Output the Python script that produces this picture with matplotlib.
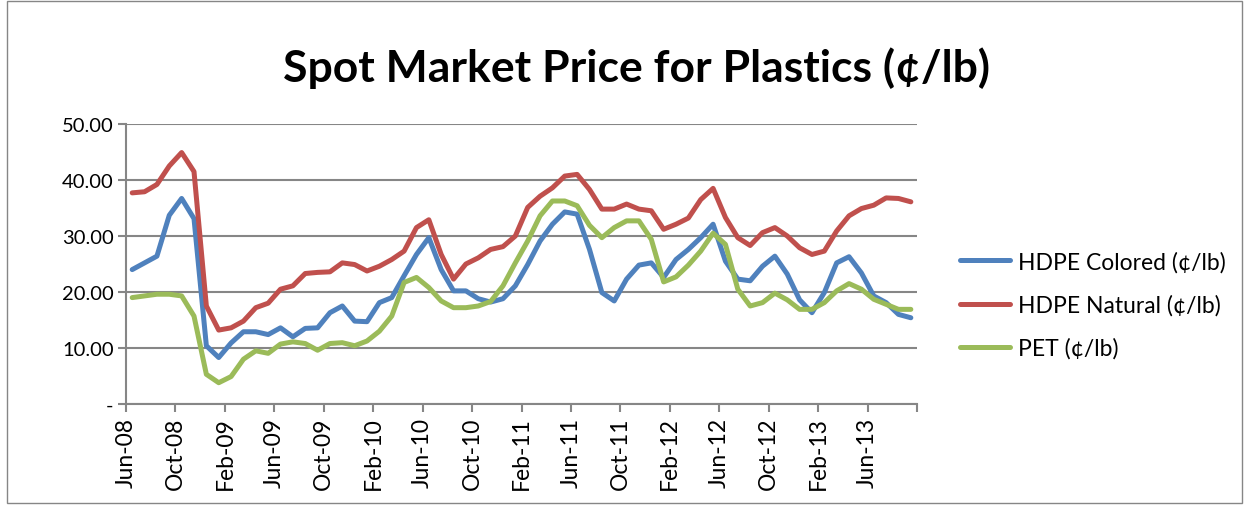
import matplotlib
matplotlib.use("Agg")
import matplotlib.pyplot as plt
from matplotlib.patches import Rectangle

# Monthly spot prices, Jun-08 .. Sep-13 (cents per lb)
hdpe_colored = [24.0, 25.2, 26.4, 33.7, 36.7, 33.1, 10.4, 8.3, 10.9, 12.9,
                12.9, 12.4, 13.6, 12.0, 13.5, 13.6, 16.3, 17.5, 14.8, 14.7,
                18.1, 19.0, 22.9, 26.7, 29.7, 24.0, 20.2, 20.2, 18.8, 18.2,
                18.8, 21.1, 24.9, 29.1, 32.1, 34.3, 33.9, 27.6, 19.9, 18.4,
                22.3, 24.8, 25.2, 22.6, 25.8, 27.6, 29.7, 32.1, 25.5, 22.3,
                22.0, 24.6, 26.4, 23.2, 18.6, 16.3, 19.9, 25.2, 26.3, 23.4,
                19.3, 18.1, 16.0, 15.4]
hdpe_natural = [37.7, 37.9, 39.2, 42.5, 44.9, 41.5, 17.5, 13.2, 13.6, 14.8,
                17.2, 18.0, 20.5, 21.1, 23.3, 23.5, 23.6, 25.2, 24.9, 23.75,
                24.6, 25.8, 27.3, 31.5, 32.9, 26.7, 22.3, 25.0, 26.1, 27.6,
                28.1, 30.0, 35.1, 37.1, 38.6, 40.7, 41.0, 38.3, 34.8, 34.8,
                35.7, 34.8, 34.5, 31.2, 32.1, 33.2, 36.5, 38.5, 33.3, 29.7,
                28.3, 30.6, 31.5, 30.0, 27.9, 26.7, 27.3, 30.9, 33.6, 34.9,
                35.5, 36.8, 36.7, 36.1]
pet = [19.0, 19.3, 19.6, 19.6, 19.3, 15.7, 5.3, 3.8, 4.9, 8.0,
       9.5, 9.05, 10.7, 11.1, 10.8, 9.6, 10.8, 10.95, 10.4, 11.25,
       13.0, 15.7, 21.7, 22.6, 20.8, 18.4, 17.2, 17.2, 17.5, 18.3,
       21.1, 25.2, 29.1, 33.6, 36.25, 36.25, 35.4, 31.9, 29.7, 31.5,
       32.7, 32.7, 29.4, 21.8, 22.7, 24.8, 27.3, 30.5, 28.5, 20.5,
       17.5, 18.1, 19.8, 18.6, 16.9, 16.9, 18.1, 20.2, 21.5, 20.5,
       18.7, 17.8, 16.9, 16.9]

tick_labels = ["Jun-08", "Oct-08", "Feb-09", "Jun-09", "Oct-09", "Feb-10",
               "Jun-10", "Oct-10", "Feb-11", "Jun-11", "Oct-11", "Feb-12",
               "Jun-12", "Oct-12", "Feb-13", "Jun-13", ""]
y_ticks = [0, 10, 20, 30, 40, 50]
y_labels = ["-", "10.00", "20.00", "30.00", "40.00", "50.00"]

series_names = ["HDPE Colored (\u00a2/lb)", "HDPE Natural (\u00a2/lb)", "PET (\u00a2/lb)"]
colors = ["#4F81BD", "#C0504D", "#9BBB59"]


def main():
    plt.rcParams['font.family'] = ['Lato', 'DejaVu Sans']

    fig = plt.figure(figsize=(12.49, 5.06), dpi=100)
    ax = fig.add_axes([0.1009, 0.1996, 0.6333, 0.5534])

    x = list(range(len(hdpe_colored)))
    for vals, name, c in zip([hdpe_colored, hdpe_natural, pet], series_names, colors):
        ax.plot(x, vals, color=c, lw=3.6, label=name, solid_joinstyle='round',
                solid_capstyle='round')

    # date axis: points sit between the monthly ticks
    ax.set_xlim(-0.5, len(x) - 0.5)
    ax.set_xticks([-0.5 + 4 * k for k in range(len(tick_labels))])
    ax.set_xticklabels(tick_labels, rotation=90, fontsize=16.5)
    ax.set_ylim(0, 50)
    ax.set_yticks(y_ticks)
    ax.set_yticklabels(y_labels, fontsize=14.5)

    ax.grid(axis='y', color='#868686', lw=1.5)
    ax.set_axisbelow(True)
    for s in ['top', 'right']:
        ax.spines[s].set_visible(False)
    for s in ['left', 'bottom']:
        ax.spines[s].set_color('#868686')
        ax.spines[s].set_linewidth(1.5)
    ax.tick_params(axis='both', color='#868686', width=1.5, length=6, pad=3)

    fig.text(0.51, 0.865, "Spot Market Price for Plastics (\u00a2/lb)",
             ha='center', va='center', fontsize=32, fontweight='bold')

    ax.legend(loc='center left', bbox_to_anchor=(1.028, 0.354), frameon=False,
              fontsize=16.5, handlelength=2.2, labelspacing=0.95, handletextpad=0.35)

    fig.patches.append(Rectangle((0.006, 0.004), 0.988, 0.992, transform=fig.transFigure,
                                 fill=False, edgecolor='#868686', lw=1))

    fig.savefig("out.png", dpi=100)


if __name__ == "__main__":
    main()
